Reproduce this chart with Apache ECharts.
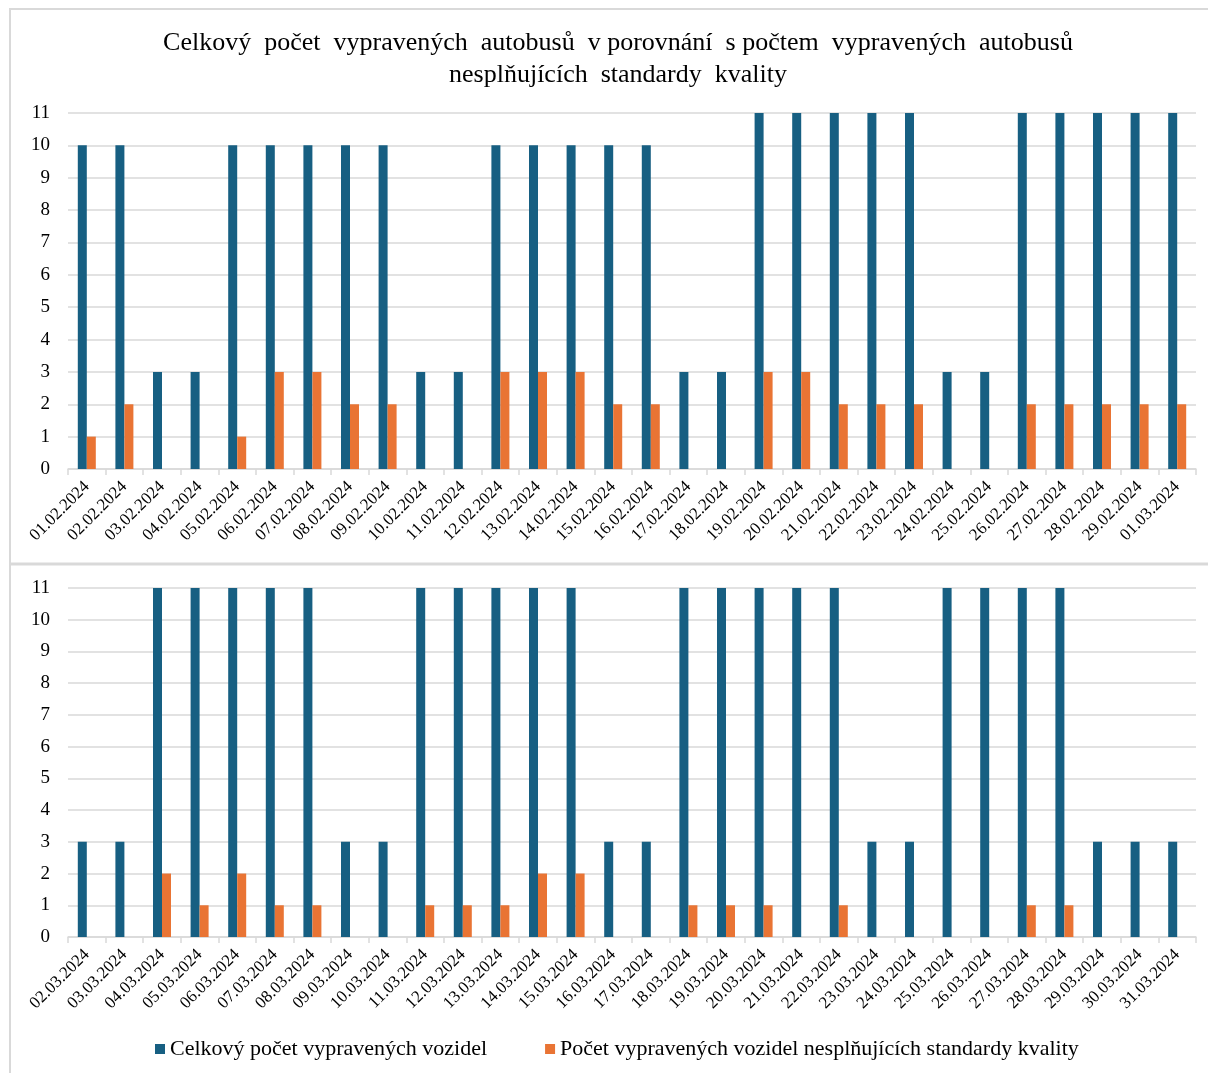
<!DOCTYPE html>
<html>
<head>
<meta charset="utf-8">
<script src="https://cdn.jsdelivr.net/npm/echarts@6/dist/echarts.min.js"></script>
<style>html,body{margin:0;padding:0;background:#fff}#c{width:1208px;height:1073px}</style>
</head>
<body>
<div id="c"></div>
<script>
const categoriesTop = ['01.02.2024','02.02.2024','03.02.2024','04.02.2024','05.02.2024','06.02.2024','07.02.2024','08.02.2024','09.02.2024','10.02.2024','11.02.2024','12.02.2024','13.02.2024','14.02.2024','15.02.2024','16.02.2024','17.02.2024','18.02.2024','19.02.2024','20.02.2024','21.02.2024','22.02.2024','23.02.2024','24.02.2024','25.02.2024','26.02.2024','27.02.2024','28.02.2024','29.02.2024','01.03.2024'];
const totalTop = [10,10,3,3,10,10,10,10,10,3,3,10,10,10,10,10,3,3,11,11,11,11,11,3,3,11,11,11,11,11];
const badTop   = [1,2,0,0,1,3,3,2,2,0,0,3,3,3,2,2,0,0,3,3,2,2,2,0,0,2,2,2,2,2];

const categoriesBottom = ['02.03.2024','03.03.2024','04.03.2024','05.03.2024','06.03.2024','07.03.2024','08.03.2024','09.03.2024','10.03.2024','11.03.2024','12.03.2024','13.03.2024','14.03.2024','15.03.2024','16.03.2024','17.03.2024','18.03.2024','19.03.2024','20.03.2024','21.03.2024','22.03.2024','23.03.2024','24.03.2024','25.03.2024','26.03.2024','27.03.2024','28.03.2024','29.03.2024','30.03.2024','31.03.2024'];
const totalBottom = [3,3,11,11,11,11,11,3,3,11,11,11,11,11,3,3,11,11,11,11,11,3,3,11,11,11,11,3,3,3];
const badBottom   = [0,0,2,1,2,1,1,0,0,1,1,1,2,2,0,0,1,1,1,0,1,0,0,0,0,1,1,0,0,0];

const seriesNames = ['Celkový počet vypravených vozidel','Počet vypravených vozidel nesplňujících standardy kvality'];
const titleText = 'Celkový  počet  vypravených  autobusů  v porovnání  s počtem  vypravených  autobusů\nnesplňujících  standardy  kvality';

const FONT = '"Liberation Serif", "Times New Roman", serif';
const BLUE = '#175f82', ORANGE = '#e97434', GRID = '#d9d9d9';

function xAx(idx, data) {
  return {
    type: 'category', gridIndex: idx, data: data,
    axisLine: {lineStyle: {color: GRID, width: 1.5}},
    axisTick: {show: true, length: 6, lineStyle: {color: GRID, width: 1.5}},
    axisLabel: {rotate: 45, color: '#000', fontFamily: FONT, fontSize: 17, margin: 15, interval: 0}
  };
}
function yAx(idx) {
  return {
    type: 'value', gridIndex: idx, min: 0, max: 11, interval: 1,
    axisLine: {show: false}, axisTick: {show: false},
    splitLine: {lineStyle: {color: GRID, width: 1.5}},
    axisLabel: {color: '#000', fontFamily: FONT, fontSize: 19, margin: 18}
  };
}
function bar(name, xi, data, color) {
  return {
    name: name, type: 'bar', xAxisIndex: xi, yAxisIndex: xi, data: data,
    barWidth: 9, barGap: '0%', itemStyle: {color: color}, animation: false
  };
}

const chart = echarts.init(document.getElementById('c'));
chart.setOption({
  backgroundColor: '#fff',
  animation: false,
  title: {
    text: titleText, left: 613, textAlign: 'center', top: 22,
    textStyle: {fontFamily: FONT, fontSize: 26, fontWeight: 'normal', color: '#000', lineHeight: 32}
  },
  legend: {
    bottom: 8, left: 150, itemWidth: 10, itemHeight: 10, itemGap: 58,
    icon: 'rect',
    textStyle: {fontFamily: FONT, fontSize: 22, color: '#000'},
    data: seriesNames
  },
  grid: [
    {left: 68, right: 12, top: 113, height: 356},
    {left: 68, right: 12, top: 588, height: 349}
  ],
  xAxis: [xAx(0, categoriesTop), xAx(1, categoriesBottom)],
  yAxis: [yAx(0), yAx(1)],
  series: [
    bar(seriesNames[0], 0, totalTop, BLUE),
    bar(seriesNames[1], 0, badTop, ORANGE),
    bar(seriesNames[0], 1, totalBottom, BLUE),
    bar(seriesNames[1], 1, badBottom, ORANGE)
  ],
  graphic: [
    {type: 'rect', shape: {x: 10, y: 9, width: 1210, height: 1080}, style: {fill: 'none', stroke: GRID, lineWidth: 2}, silent: true},
    {type: 'line', shape: {x1: 10, y1: 564, x2: 1208, y2: 564}, style: {stroke: GRID, lineWidth: 3}, silent: true}
  ]
});
</script>
</body>
</html>
